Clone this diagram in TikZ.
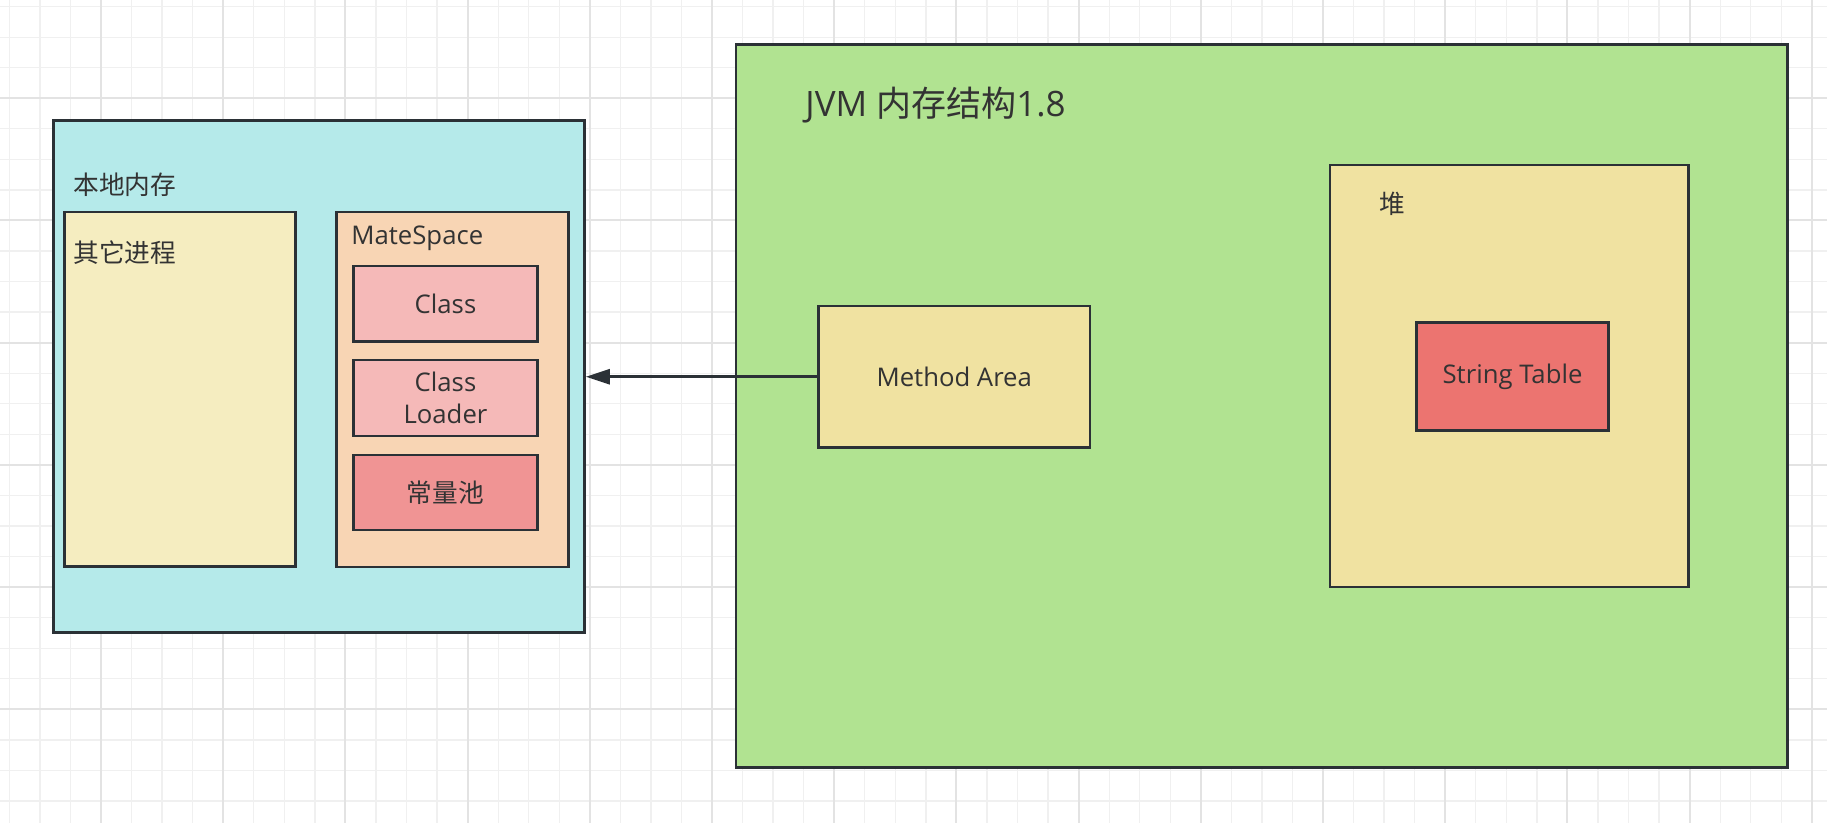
\documentclass[tikz,border=0pt]{standalone}
\usepackage{fontspec}
\setmainfont{Open Sans}
\newfontfamily\cjk{Noto Sans CJK SC}
\usetikzlibrary{fit,arrows.meta}
\definecolor{cgridminor}{HTML}{F0F0F0}
\definecolor{cgridmajor}{HTML}{E3E3E3}
\definecolor{cstroke}{HTML}{2B3136}
\definecolor{ctext}{HTML}{333333}
\definecolor{cblue}{HTML}{B5EAEA}
\definecolor{cpale}{HTML}{F5EDC0}
\definecolor{cgreen}{HTML}{B1E391}
\definecolor{csand}{HTML}{F0E2A1}
\definecolor{cpeach}{HTML}{F8D5B4}
\definecolor{cpink}{HTML}{F5B9B8}
\definecolor{crose}{HTML}{F09494}
\definecolor{cred}{HTML}{EC7470}
\tikzset{
  gminor/.style={draw=cgridminor, line width=0.65pt},
  gmajor/.style={draw=cgridmajor, line width=1pt},
  box/.style={draw=cstroke, line width=1.25pt, inner sep=0pt, rectangle},
  lbl/.style={text=ctext, font=\fontsize{12.85pt}{15.8pt}\selectfont, inner sep=0pt, align=center},
  biglbl/.style={text=ctext, font=\fontsize{17.5pt}{21pt}\selectfont, inner sep=0pt},
  arr/.style={draw=cstroke, line width=1.4pt, -{Triangle[length=12pt,width=7.5pt]}}
}
\begin{document}
\begin{tikzpicture}[x=0.5pt,y=-0.5pt]
\useasboundingbox (0,0) rectangle (1827,823);
\fill[white] (0,0) rectangle (1827,823);
% grid
\foreach \i in {0,...,59} \draw[gminor] ({9.35+30.55*\i},0) -- ({9.35+30.55*\i},823);
\foreach \i in {0,...,26} \draw[gminor] (0,{6.65+30.55*\i}) -- (1827,{6.65+30.55*\i});
\foreach \i in {-1,...,14} \draw[gmajor] ({101+122.2*\i},0) -- ({101+122.2*\i},823);
\foreach \i in {-1,...,6} \draw[gmajor] (0,{98.3+122.2*\i}) -- (1827,{98.3+122.2*\i});
% left panel
\node[box, fill=cblue, fit={(53.5,120.5) (584.5,632.5)}] (local) {};
\node[lbl, anchor=west] (locallbl) at (73,185) {\cjk 本地内存};
\node[box, fill=cpale, fit={(64.5,212) (295.5,566.5)}] (other) {};
\node[lbl, anchor=west] (otherlbl) at (73,253) {\cjk 其它进程};
\node[box, fill=cpeach, fit={(336.5,212) (568.5,567)}] (meta) {};
\node[lbl, anchor=west] (metalbl) at (351,238) {MateSpace};
\node[box, fill=cpink, fit={(353.5,266) (537.5,341.5)}] (cls) {};
\node[lbl] (clslbl) at (cls.center) {Class};
\node[box, fill=cpink, fit={(353.5,360) (537.5,436)}] (loader) {};
\node[lbl] (loaderlbl) at (loader.center) {Class\\Loader};
\node[box, fill=crose, fit={(353.5,455) (537.5,530)}] (pool) {};
\node[lbl] (poollbl) at (pool.center) {\cjk 常量池};
% right panel
\node[box, fill=cgreen, fit={(736,44.5) (1787.5,767.5)}] (jvm) {};
\node[biglbl, anchor=west] (jvmlbl) at (805,105) {JVM {\cjk 内存结构}1.8};
\node[box, fill=csand, fit={(818.5,306) (1090,447.5)}] (method) {};
\node[lbl] (methodlbl) at (method.center) {Method Area};
\node[box, fill=csand, fit={(1330,165) (1688.5,587)}] (heap) {};
\node[lbl, anchor=west] (heaplbl) at (1379,204) {\cjk 堆};
\node[box, fill=cred, fit={(1416.5,322.5) (1608.5,430.5)}] (strt) {};
\node[lbl] (strtlbl) at (strt.center) {String Table};
% connector
\draw[arr] (method.west) -- (method.west -| local.east);
\end{tikzpicture}
\end{document}
